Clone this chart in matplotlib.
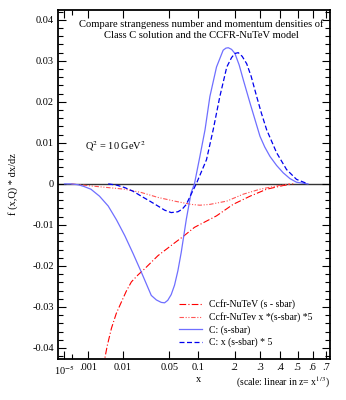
import numpy as np
import matplotlib
matplotlib.use("Agg")
import matplotlib.pyplot as plt
from matplotlib.ticker import FixedLocator, FixedFormatter

plt.rcParams['font.family'] = ['Liberation Serif', 'DejaVu Serif']
plt.rcParams['mathtext.fontset'] = 'stix'

# ---- data (x, f(x,Q)*dx/dz) ----
c_x = [1e-5, 8e-5, 2.9e-4, 6.1e-4, 0.0013, 0.0026, 0.0046, 0.0073, 0.0108, 0.0154,
       0.021, 0.0295, 0.0346, 0.040, 0.044, 0.048, 0.0527, 0.0575, 0.0626, 0.068,
       0.0768, 0.0858, 0.0923, 0.1038, 0.1155, 0.1273, 0.1447, 0.1637, 0.172,
       0.1794, 0.190, 0.2012, 0.216, 0.2315, 0.2573, 0.2994, 0.321, 0.346, 0.3795,
       0.415, 0.453, 0.493, 0.567]
c_y = [0.0, 0.0, -0.0002, -0.0006, -0.0013, -0.0030, -0.0054, -0.0088, -0.0126, -0.0170,
       -0.0215, -0.0272, -0.0283, -0.0289, -0.0290, -0.0284, -0.0270, -0.0247, -0.0212, -0.0167,
       -0.0086, -0.0021, 0.0, 0.0067, 0.0132, 0.0213, 0.0285, 0.0326, 0.0331,
       0.0332, 0.0328, 0.0318, 0.0290, 0.0253, 0.0197, 0.0116, 0.0090, 0.0067, 0.0045,
       0.0027, 0.0013, 0.0004, 0.0]

cx_x = [0.0046, 0.0073, 0.0108, 0.0154, 0.021, 0.0281, 0.0363, 0.044, 0.0527, 0.0626,
        0.0694, 0.0768, 0.0858, 0.096, 0.119, 0.1358, 0.154, 0.1747, 0.190, 0.2012,
        0.2128, 0.227, 0.2441, 0.262, 0.2849, 0.306, 0.33, 0.3795, 0.4338, 0.493, 0.567]
cx_y = [0.0, -0.0003, -0.0009, -0.0018, -0.0030, -0.0042, -0.0054, -0.0064, -0.0070, -0.0068,
        -0.0062, -0.0050, -0.0025, 0.0, 0.0059, 0.0132, 0.0213, 0.0285, 0.0308, 0.0318,
        0.0320, 0.0311, 0.0293, 0.0262, 0.0213, 0.0172, 0.0132, 0.0076, 0.0035, 0.0011, 0.0]

ccfr_x = [0.00338, 0.00433, 0.00555, 0.00719, 0.00926, 0.01154, 0.01435, 0.0186,
          0.02364, 0.0363, 0.0575, 0.0715, 0.0923, 0.1447, 0.195, 0.2573, 0.33,
          0.415, 0.473]
ccfr_y = [-0.0445, -0.0395, -0.0352, -0.0316, -0.0288, -0.0262, -0.0239, -0.0222,
          -0.0207, -0.0175, -0.0144, -0.0128, -0.0106, -0.0078, -0.0050, -0.0030, -0.0013,
          -0.0004, 0.0]

ccfrx_x = [8.5e-5, 0.00133, 0.00457, 0.0108, 0.021, 0.0363, 0.0575, 0.0858,
           0.1038, 0.1273, 0.1747, 0.2315, 0.2994, 0.3795, 0.453]
ccfrx_y = [0.0, -0.0005, -0.0009, -0.0013, -0.0021, -0.0033, -0.0042, -0.0050,
           -0.0052, -0.0050, -0.0042, -0.0025, -0.0013, -0.0005, 0.0]

xtick_vals = [1e-5, 0.001, 0.01, 0.05, 0.1, 0.2, 0.3, 0.4, 0.5, 0.6, 0.7]
xtick_labels = [r'10$^{-5}$', '.001', '0.01', '0.05', '0.1', '.2', '.3', '.4', '.5', '.6', '.7']
xminor_vals = [1e-4]
ytick_vals = [-0.04, -0.03, -0.02, -0.01, 0.0, 0.01, 0.02, 0.03, 0.04]
ytick_labels = ['-0.04', '-0.03', '-0.02', '-0.01', '0', '0.01', '0.02', '0.03', '0.04']

fig = plt.figure(figsize=(3.46, 4.0), dpi=100)
ax = fig.add_axes([0.1676, 0.1025, 0.786, 0.8725])

fwd = lambda x: np.cbrt(x)
inv = lambda z: np.asarray(z) ** 3
ax.set_xscale('function', functions=(fwd, inv))

ax.axhline(0, color='#333333', lw=1.0, zorder=1)

ax.plot(ccfr_x, ccfr_y, color='#ff0000', lw=0.8, dashes=(6, 2, 1, 2),
        label='Ccfr-NuTeV (s - sbar)')
ax.plot(ccfrx_x, ccfrx_y, color='#ff5555', lw=0.8, dashes=(4, 1.5, 1, 1.5, 1, 1.5),
        label='Ccfr-NuTev x *(s-sbar) *5')
ax.plot(c_x, c_y, color='#6f6fff', lw=0.9, label='C: (s-sbar)')
ax.plot(cx_x, cx_y, color='#0000ee', lw=0.9, dashes=(4, 2),
        label='C: x (s-sbar) * 5')

ax.set_xlim(0, 0.7307)
ax.set_ylim(-0.0427, 0.0424)

ax.xaxis.set_major_locator(FixedLocator(xtick_vals))
ax.xaxis.set_major_formatter(FixedFormatter(xtick_labels))
ax.xaxis.set_minor_locator(FixedLocator(xminor_vals))
ax.yaxis.set_major_locator(FixedLocator(ytick_vals))
ax.yaxis.set_major_formatter(FixedFormatter(ytick_labels))
ax.yaxis.set_minor_locator(FixedLocator(np.arange(-0.042, 0.0421, 0.002)))

ax.tick_params(which='both', direction='in', top=True, right=True, labelsize=7.5,
               width=0.8, pad=3)
ax.tick_params(which='major', length=6)
ax.tick_params(which='minor', length=3.5)
for s in ax.spines.values():
    s.set_linewidth(1.3)

ax.set_ylabel('f (x,Q) * dx/dz', fontsize=7.5, labelpad=10)
ax.text(0.515, -0.045, 'x', transform=ax.transAxes, fontsize=7.5, ha='center', va='top')
ax.text(1.0, -0.045, r'(scale: linear in z= x$^{1/3}$)', transform=ax.transAxes,
        fontsize=7, ha='right', va='top')

ax.text(0.528, 0.972, 'Compare strangeness number and momentum densities of\nClass C solution and the CCFR-NuTeV model',
        transform=ax.transAxes, fontsize=7.6, ha='center', va='top', linespacing=1.2)
ax.text(0.10, 0.61, r'Q$^2$ = 10 GeV$^2$', transform=ax.transAxes, fontsize=7.5,
        ha='left', va='center')

ax.legend(loc='upper left', bbox_to_anchor=(0.42, 0.19), frameon=False, fontsize=7,
          handlelength=2.4, handletextpad=0.7, labelspacing=0.3, borderpad=0.2)

fig.savefig('out.png', dpi=100)
